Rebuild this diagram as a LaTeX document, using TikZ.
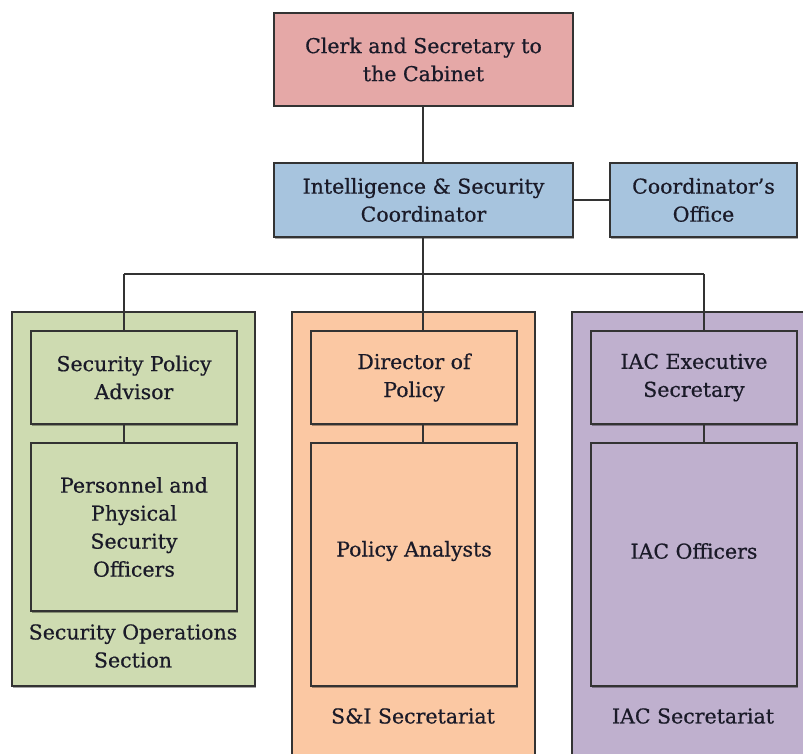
\documentclass[tikz,border=0pt]{standalone}
\usepackage{fontspec}
\setmainfont[FakeBold=0.6]{DejaVu Serif}
\usetikzlibrary{shadows}
\definecolor{cred}{HTML}{E5A8A7}
\definecolor{cblue}{HTML}{A7C4DE}
\definecolor{cgreen}{HTML}{CEDBB1}
\definecolor{corange}{HTML}{FBC8A3}
\definecolor{cpurple}{HTML}{BFB0CE}
\definecolor{cline}{HTML}{333333}
\definecolor{ctext}{HTML}{1A1A28}
\tikzset{
  box/.style={draw=cline, line width=1.5pt, align=center, inner sep=0pt,
    text=ctext, font=\fontsize{20.5}{28}\selectfont,
    drop shadow={shadow xshift=1pt, shadow yshift=-1.5pt, opacity=0.35, fill=black}},
  lbl/.style={align=center, text=ctext, font=\fontsize{20.5}{28}\selectfont},
  conn/.style={draw=cline, line width=1.5pt},
}
\newcommand{\pbox}[7]{% name, x1,y1,x2,y2, fill, text
  \node[box, fill=#6, minimum width={#4-#2}, minimum height={#5-#3}] (#1) at ({(#2+#4)/2},{(#3+#5)/2+2}) {#7};}
\begin{document}
\begin{tikzpicture}[x=1pt,y=-1pt]
\useasboundingbox (0,0) rectangle (803,754);
\clip (0,0) rectangle (803,754);
% outer groups
\pbox{gsec}{12}{310}{255}{684}{cgreen}{}
\pbox{gsi}{292}{310}{535}{770}{corange}{}
\pbox{giac}{572}{310}{815}{770}{cpurple}{}
% top
\pbox{clerk}{274}{11}{573}{104}{cred}{Clerk and Secretary to\\the Cabinet}
\pbox{isc}{274}{161}{573}{235}{cblue}{Intelligence \& Security\\Coordinator}
\pbox{office}{610}{161}{797}{235}{cblue}{Coordinator’s\\Office}
% inner
\pbox{spa}{31}{329}{237}{422}{cgreen}{Security Policy\\Advisor}
\pbox{pps}{31}{441}{237}{609}{cgreen}{Personnel and\\Physical\\Security\\Officers}
\pbox{dop}{311}{329}{517}{422}{corange}{Director of\\Policy}
\pbox{pa}{311}{441}{517}{684}{corange}{}
\pbox{iacx}{591}{329}{797}{422}{cpurple}{IAC Executive\\Secretary}
\pbox{iaco}{591}{441}{797}{684}{cpurple}{}
% labels
\node[lbl] (lpa) at (414,551) {Policy Analysts};
\node[lbl] (liaco) at (694,551) {IAC Officers};
\node[lbl] (lsec) at (133,646) {Security Operations\\Section};
\node[lbl] (lsi) at (413,716) {S\&I Secretariat};
\node[lbl] (liac) at (693,716) {IAC Secretariat};
% connectors
\coordinate (bus) at (423,274);
\coordinate (xl) at (124,274);
\coordinate (xr) at (704,274);
\draw[conn] (clerk.south -| bus) -- (isc.north -| bus);
\draw[conn] (isc.east) -- (office.west);
\draw[conn] (isc.south -| bus) -- (bus);
\draw[conn] (xl) -- (xr);
\draw[conn] (xl) -- (spa.north -| xl);
\draw[conn] (bus) -- (dop.north -| bus);
\draw[conn] (xr) -- (iacx.north -| xr);
\draw[conn] (spa.south -| xl) -- (pps.north -| xl);
\draw[conn] (dop.south -| bus) -- (pa.north -| bus);
\draw[conn] (iacx.south -| xr) -- (iaco.north -| xr);
\end{tikzpicture}
\end{document}
